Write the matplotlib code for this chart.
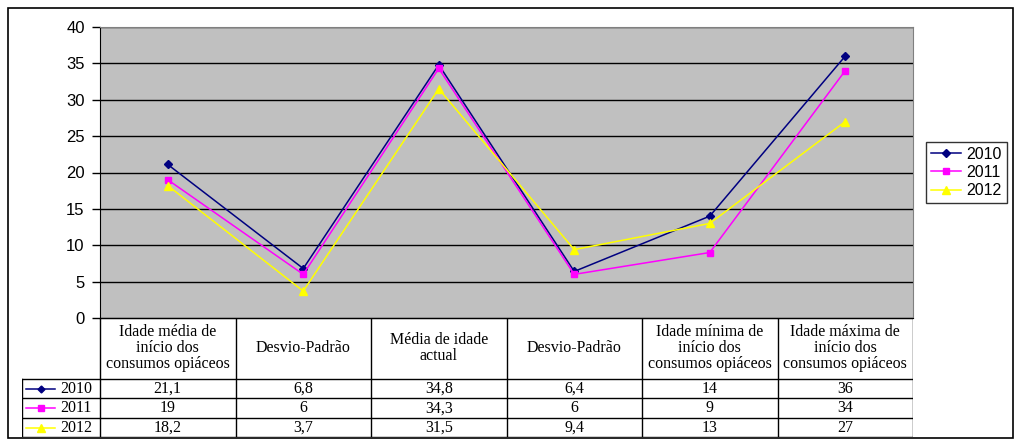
import matplotlib
matplotlib.use("Agg")
import matplotlib.pyplot as plt
from matplotlib.patches import Rectangle

categories = [
    "Idade média de\ninício dos\nconsumos opiáceos",
    "Desvio-Padrão",
    "Média de idade\nactual",
    "Desvio-Padrão",
    "Idade mínima de\ninício dos\nconsumos opiáceos",
    "Idade máxima de\ninício dos\nconsumos opiáceos",
]
years = ["2010", "2011", "2012"]
v2010 = [21.1, 6.8, 34.8, 6.4, 14, 36]
v2011 = [19, 6, 34.3, 6, 9, 34]
v2012 = [18.2, 3.7, 31.5, 9.4, 13, 27]
series = [v2010, v2011, v2012]
colors = ["#000080", "#FF00FF", "#FFFF00"]
markers = ["D", "s", "^"]
msizes = [4, 5, 6]

W, H = 1018, 442
fig = plt.figure(figsize=(W / 100, H / 100), dpi=100)
fig.patch.set_facecolor("white")


def box(x0, y0, x1, y1):
    # pixel coords (top-left origin) -> figure fraction
    return [x0 / W, 1 - y1 / H, (x1 - x0) / W, (y1 - y0) / H]


# outer chart border
fig.patches.append(Rectangle((8 / W, 1 - 438 / H), 1005 / W, 430 / H,
                             transform=fig.transFigure, fill=False,
                             edgecolor="black", lw=1.2))

x_left, x_right = 100, 913
y_top, y_bot = 27, 318
ax = fig.add_axes(box(x_left, y_top, x_right, y_bot))
ax.set_facecolor("#C0C0C0")
n = len(categories)
xs = list(range(n))
ax.set_xlim(-0.5, n - 0.5)
ax.set_ylim(0, 40)
ax.set_yticks(range(0, 41, 5))
ax.yaxis.grid(True, color="black", lw=1)
ax.set_axisbelow(True)
ax.set_xticks([])
for lab in ax.get_yticklabels():
    lab.set_fontfamily("Liberation Sans")
    lab.set_fontsize(12)
ax.tick_params(axis="y", length=6, width=1, pad=5)
ax.spines["top"].set_color("#808080")
ax.spines["right"].set_color("#808080")
ax.spines["left"].set_color("black")
ax.spines["bottom"].set_color("black")

handles = []
for vals, c, m, ms, yr in zip(series, colors, markers, msizes, years):
    h, = ax.plot(xs, vals, color=c, lw=1.1, marker=m, ms=ms,
                 markerfacecolor=c, markeredgecolor=c, label=yr)
    handles.append(h)

leg = fig.legend(handles=handles, loc="upper left",
                 bbox_to_anchor=(926 / W, 1 - 142 / H),
                 prop={"family": "Liberation Sans", "size": 11.5},
                 frameon=True, fancybox=False, edgecolor="black",
                 handlelength=1.9, borderpad=0.3, labelspacing=0.2,
                 handletextpad=0.35, borderaxespad=0)
leg.get_frame().set_linewidth(1)

# data table below the plot
tx0, ty0, ty1 = 22, 318, 437
tab = fig.add_axes(box(tx0, ty0, x_right, ty1))
tab.set_xlim(tx0, x_right)
tab.set_ylim(ty1, ty0)
tab.axis("off")
col_w = (x_right - x_left) / n
row_edges = [318, 379, 398, 418, 437]
lk = dict(color="black", lw=1)
for i in range(n + 1):
    x = x_left + i * col_w
    tab.plot([x, x], [ty0, ty1], **lk)
tab.plot([tx0, tx0], [379, ty1], **lk)
tab.plot([x_left, x_right], [318, 318], **lk)
for y in row_edges[1:]:
    tab.plot([tx0, x_right], [y, y], **lk)

serif = "Liberation Serif"
for i, cat in enumerate(categories):
    cx = x_left + (i + 0.5) * col_w
    tab.text(cx, 348.5, cat, ha="center", va="center", family=serif,
             fontsize=11.5, linespacing=1.0)
    for r, vals in enumerate(series):
        cy = (row_edges[r + 1] + row_edges[r + 2]) / 2
        txt = ("%g" % vals[i]).replace(".", ",")
        tab.text(cx, cy + 0.5, txt, ha="center", va="center", family=serif,
                 fontsize=11.5)

for r, (yr, c, m, ms) in enumerate(zip(years, colors, markers, msizes)):
    cy = (row_edges[r + 1] + row_edges[r + 2]) / 2
    tab.plot([26, 55], [cy, cy], color=c, lw=1.1)
    tab.plot([40.5], [cy], marker=m, ms=ms - 0.5, color=c)
    tab.text(60, cy + 0.5, yr, ha="left", va="center", family=serif,
             fontsize=11.5)

fig.savefig("out.png", dpi=100)
